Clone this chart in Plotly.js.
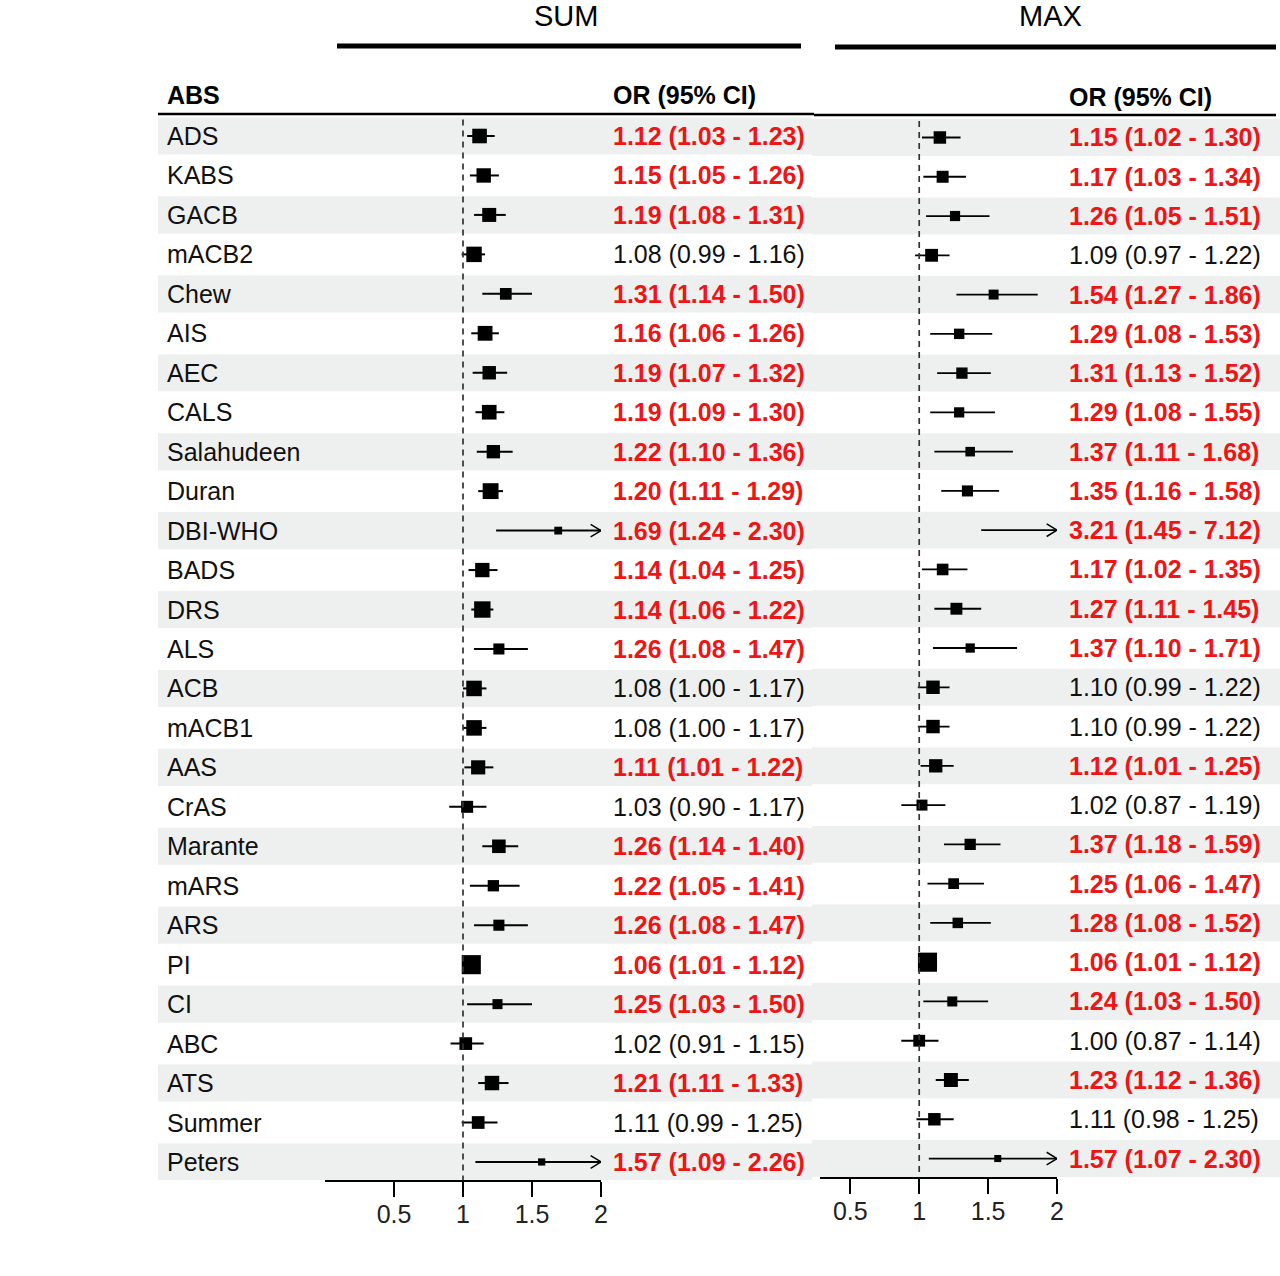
<!DOCTYPE html>
<html>
<head>
<meta charset="utf-8">
<script src="https://cdn.plot.ly/plotly-3.0.1.min.js"></script>
<style>html,body{margin:0;padding:0;background:#fff;}#chart{width:1280px;height:1276px;}</style>
</head>
<body>
<div id="chart"></div>
<script>
// ---------------- data ----------------
const labels = ["ADS","KABS","GACB","mACB2","Chew","AIS","AEC","CALS","Salahudeen","Duran","DBI-WHO","BADS","DRS","ALS","ACB","mACB1","AAS","CrAS","Marante","mARS","ARS","PI","CI","ABC","ATS","Summer","Peters"];

const sumOR = [1.12,1.15,1.19,1.08,1.31,1.16,1.19,1.19,1.22,1.20,1.69,1.14,1.14,1.26,1.08,1.08,1.11,1.03,1.26,1.22,1.26,1.06,1.25,1.02,1.21,1.11,1.57];
const sumLo = [1.03,1.05,1.08,0.99,1.14,1.06,1.07,1.09,1.10,1.11,1.24,1.04,1.06,1.08,1.00,1.00,1.01,0.90,1.14,1.05,1.08,1.01,1.03,0.91,1.11,0.99,1.09];
const sumHi = [1.23,1.26,1.31,1.16,1.50,1.26,1.32,1.30,1.36,1.29,2.30,1.25,1.22,1.47,1.17,1.17,1.22,1.17,1.40,1.41,1.47,1.12,1.50,1.15,1.33,1.25,2.26];

const maxOR = [1.15,1.17,1.26,1.09,1.54,1.29,1.31,1.29,1.37,1.35,3.21,1.17,1.27,1.37,1.10,1.10,1.12,1.02,1.37,1.25,1.28,1.06,1.24,1.00,1.23,1.11,1.57];
const maxLo = [1.02,1.03,1.05,0.97,1.27,1.08,1.13,1.08,1.11,1.16,1.45,1.02,1.11,1.10,0.99,0.99,1.01,0.87,1.18,1.06,1.08,1.01,1.03,0.87,1.12,0.98,1.07];
const maxHi = [1.30,1.34,1.51,1.22,1.86,1.53,1.52,1.55,1.68,1.58,7.12,1.35,1.45,1.71,1.22,1.22,1.25,1.19,1.59,1.47,1.52,1.12,1.50,1.14,1.36,1.25,2.30];

const tickVals = [0.5, 1, 1.5, 2];
const tickText = ["0.5", "1", "1.5", "2"];
const panelTitles = ["SUM", "MAX"];
const headerLabel = "ABS";
const headerOR = "OR (95% CI)";

// ---------------- helpers ----------------
const W = 1280, H = 1276;
const px = v => v / W;           // paper x from pixel
const py = v => 1 - v / H;       // paper y from pixel
const FONT = "Liberation Sans, Arial, Helvetica, sans-serif";
const RED = "#f01414";
const XMAX = 2;

function fmt(o, l, h) { return o.toFixed(2) + " (" + l.toFixed(2) + " - " + h.toFixed(2) + ")"; }

function panelTraces(OR, LO, HI, xa, ya, lw) {
  const lx = [], ly = [], ax = [], ay = [], mx = [], my = [], ms = [];
  OR.forEach((o, i) => {
    const hi = Math.min(HI[i], XMAX);
    lx.push(LO[i], hi, null); ly.push(i, i, null);
    if (HI[i] > XMAX) {
      ax.push(XMAX - 0.075, XMAX, XMAX - 0.075, null);
      ay.push(i - 0.16, i, i + 0.16, null);
    }
    if (o <= XMAX) {
      mx.push(o); my.push(i);
      ms.push(6.15 / Math.sqrt(Math.log(HI[i] / LO[i])));
    }
  });
  return [
    {type: "scatter", mode: "lines", x: lx, y: ly, xaxis: xa, yaxis: ya,
     line: {color: "#000", width: lw}, hoverinfo: "skip", showlegend: false},
    {type: "scatter", mode: "lines", x: ax, y: ay, xaxis: xa, yaxis: ya,
     line: {color: "#000", width: 1.5}, hoverinfo: "skip", showlegend: false},
    {type: "scatter", mode: "markers", x: mx, y: my, xaxis: xa, yaxis: ya,
     marker: {symbol: "square", size: ms, color: "#000", opacity: 1, line: {width: 0}},
     opacity: 1, hoverinfo: "skip", showlegend: false, cliponaxis: false}
  ];
}

const traces = [
  ...panelTraces(sumOR, sumLo, sumHi, "x", "y", 2),
  ...panelTraces(maxOR, maxLo, maxHi, "x2", "y2", 1.8)
];

// ---------------- shapes ----------------
const shapes = [];
labels.forEach((_, i) => {
  if (i % 2 === 0) {
    shapes.push({type: "rect", xref: "paper", yref: "y", x0: px(158), x1: px(812), y0: i - 0.47, y1: i + 0.47,
                 fillcolor: "#eef0ef", line: {width: 0}, layer: "below"});
    shapes.push({type: "rect", xref: "paper", yref: "y2", x0: px(812), x1: 1, y0: i - 0.47, y1: i + 0.47,
                 fillcolor: "#eef0ef", line: {width: 0}, layer: "below"});
  }
});
// top panel bars
shapes.push({type: "line", xref: "paper", yref: "paper", x0: px(337), x1: px(801), y0: py(46), y1: py(46), line: {color: "#000", width: 5}});
shapes.push({type: "line", xref: "paper", yref: "paper", x0: px(835), x1: px(1276), y0: py(47), y1: py(47), line: {color: "#000", width: 5}});
// header underlines
shapes.push({type: "line", xref: "paper", yref: "paper", x0: px(158), x1: px(814), y0: py(114), y1: py(114), line: {color: "#000", width: 2.5}});
shapes.push({type: "line", xref: "paper", yref: "paper", x0: px(814), x1: px(1276), y0: py(115), y1: py(115), line: {color: "#000", width: 2.5}});
// reference lines at OR = 1
shapes.push({type: "line", xref: "x", yref: "y", x0: 1, x1: 1, y0: -0.42, y1: 26.46, line: {color: "#333", width: 1.7, dash: "6px,5px"}});
shapes.push({type: "line", xref: "x2", yref: "y2", x0: 1, x1: 1, y0: -0.42, y1: 26.47, line: {color: "#333", width: 1.7, dash: "6px,5px"}});

// ---------------- annotations ----------------
const ann = [];
const sig = (l, h) => l > 1 || h < 1;
labels.forEach((lab, i) => {
  ann.push({xref: "paper", yref: "y", x: px(165), y: i, xanchor: "left", yanchor: "middle", showarrow: false,
            text: lab, font: {family: FONT, size: 25, color: "#111"}});
  const s1 = sig(sumLo[i], sumHi[i]);
  ann.push({xref: "paper", yref: "y", x: px(611), y: i, xanchor: "left", yanchor: "middle", showarrow: false,
            text: s1 ? "<b>" + fmt(sumOR[i], sumLo[i], sumHi[i]) + "</b>" : fmt(sumOR[i], sumLo[i], sumHi[i]),
            font: {family: FONT, size: 25, color: s1 ? RED : "#111"}});
  const s2 = sig(maxLo[i], maxHi[i]);
  ann.push({xref: "paper", yref: "y2", x: px(1067), y: i, xanchor: "left", yanchor: "middle", showarrow: false,
            text: s2 ? "<b>" + fmt(maxOR[i], maxLo[i], maxHi[i]) + "</b>" : fmt(maxOR[i], maxLo[i], maxHi[i]),
            font: {family: FONT, size: 25, color: s2 ? RED : "#111"}});
});
ann.push({xref: "paper", yref: "paper", x: px(566), y: py(16), xanchor: "center", yanchor: "middle", showarrow: false,
          text: panelTitles[0], font: {family: FONT, size: 29, color: "#000"}});
ann.push({xref: "paper", yref: "paper", x: px(1050), y: py(16), xanchor: "center", yanchor: "middle", showarrow: false,
          text: panelTitles[1], font: {family: FONT, size: 29, color: "#000"}});
ann.push({xref: "paper", yref: "paper", x: px(165), y: py(95), xanchor: "left", yanchor: "middle", showarrow: false,
          text: "<b>" + headerLabel + "</b>", font: {family: FONT, size: 25, color: "#000"}});
ann.push({xref: "paper", yref: "paper", x: px(611), y: py(95), xanchor: "left", yanchor: "middle", showarrow: false,
          text: "<b>" + headerOR + "</b>", font: {family: FONT, size: 25, color: "#000"}});
ann.push({xref: "paper", yref: "paper", x: px(1067), y: py(97), xanchor: "left", yanchor: "middle", showarrow: false,
          text: "<b>" + headerOR + "</b>", font: {family: FONT, size: 25, color: "#000"}});

// ---------------- axes ----------------
function xAxis(domain, range, anchor) {
  return {domain: domain, range: range, anchor: anchor, tickmode: "array", tickvals: tickVals, ticktext: tickText,
          ticks: "outside", ticklen: 15, tickwidth: 2, tickcolor: "#000", showline: true, linewidth: 2, linecolor: "#000",
          showgrid: false, zeroline: false, fixedrange: true, ticklabelstandoff: -4,
          tickfont: {family: FONT, size: 25, color: "#222"}};
}
function yAxis(domain, range, anchor) {
  return {domain: domain, range: range, anchor: anchor, visible: false, showgrid: false, zeroline: false, fixedrange: true};
}

const layout = {
  width: W, height: H, margin: {l: 0, r: 0, t: 0, b: 0},
  paper_bgcolor: "#fff", plot_bgcolor: "rgba(0,0,0,0)", showlegend: false,
  xaxis: xAxis([px(325), px(601)], [0, 2], "y"),
  yaxis: yAxis([1 - 1180 / H, 1], [26.457, -3.4465], "x"),
  xaxis2: xAxis([px(820), px(1057)], [0.28, 2], "y2"),
  yaxis2: yAxis([1 - 1177 / H, 1], [26.47, -3.501], "x2"),
  shapes: shapes,
  annotations: ann
};

Plotly.newPlot("chart", traces, layout, {staticPlot: true, displayModeBar: false});
</script>
</body>
</html>
